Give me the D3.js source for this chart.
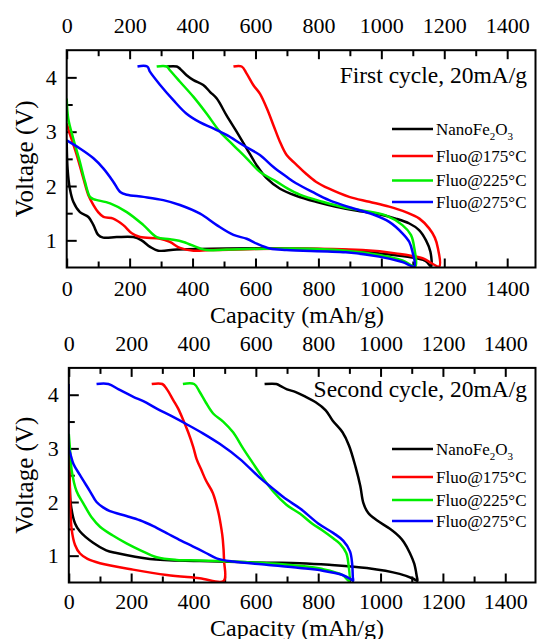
<!DOCTYPE html>
<html>
<head>
<meta charset="utf-8">
<script src="https://cdn.jsdelivr.net/npm/d3@7"></script>
</head>
<body style="margin:0;background:#fff">
<div id="chart"></div>
<script>
const SERIF = '"Liberation Serif", serif';

// Axis ticks
const capMajor = [0, 200, 400, 600, 800, 1000, 1200, 1400];
const capMinor = [100, 300, 500, 700, 900, 1100, 1300];
const voltMajor = [1, 2, 3, 4];
const voltMinor = [1.5, 2.5, 3.5];

// Legend
const seriesNames = ["NanoFe2O3", "Fluo@175°C", "Fluo@225°C", "Fluo@275°C"];
const seriesColors = ["#000000", "#ff0000", "#00ee00", "#0000ff"];

// First cycle: [capacity mAh/g, voltage V], discharge then charge
const firstNano = [[0,2.8],[3,2.3],[10,1.95],[21,1.71],[42,1.52],[69,1.43],[85,1.28],[100,1.1],[116,1.05],[159,1.06],[212,1.06],[238,1.0],[265,0.88],[291,0.81],[350,0.83],[508,0.85],[720,0.85],[887,0.82],[993,0.76],[1078,0.7],[1140,0.62],[1158,0.52],
  [1156,0.79],[1142,1.0],[1120,1.19],[1089,1.31],[1046,1.4],[993,1.48],[919,1.55],[856,1.62],[792,1.71],[729,1.82],[678,1.95],[636,2.14],[604,2.38],[572,2.69],[540,3.0],[508,3.3],[477,3.61],[456,3.73],[434,3.86],[403,3.95],[381,4.04],[360,4.16],[350,4.2],[318,4.2]];
const firstRed = [[0,3.15],[11,2.94],[32,2.57],[53,2.14],[69,1.83],[85,1.65],[100,1.52],[117,1.43],[148,1.4],[180,1.28],[207,1.13],[233,1.06],[297,1.03],[328,0.97],[360,0.86],[403,0.81],[456,0.82],[729,0.85],[940,0.82],[1046,0.76],[1131,0.67],[1184,0.52],
  [1180,0.85],[1170,1.05],[1152,1.22],[1121,1.4],[1078,1.52],[1025,1.62],[962,1.71],[898,1.8],[834,1.95],[792,2.08],[760,2.23],[729,2.4],[699,2.57],[678,2.81],[657,3.12],[636,3.43],[614,3.7],[593,3.86],[572,4.07],[556,4.2],[530,4.2]];
const firstGreen = [[0,3.61],[5,3.24],[21,2.87],[42,2.44],[58,2.08],[74,1.8],[85,1.76],[138,1.68],[191,1.52],[244,1.28],[286,1.06],[328,1.02],[371,0.97],[424,0.85],[445,0.82],[508,0.83],[720,0.85],[887,0.81],[993,0.73],[1067,0.63],[1108,0.52],
  [1105,0.85],[1094,1.1],[1067,1.28],[1014,1.46],[940,1.55],[887,1.6],[813,1.71],[741,1.84],[700,1.96],[667,2.08],[614,2.26],[572,2.51],[530,2.75],[487,3.0],[445,3.33],[403,3.64],[360,3.92],[328,4.13],[318,4.2],[286,4.2]];
const firstBlue = [[0,2.84],[42,2.69],[85,2.51],[117,2.32],[148,2.08],[170,1.89],[191,1.84],[244,1.8],[307,1.74],[360,1.65],[424,1.49],[477,1.28],[530,1.1],[572,1.03],[604,0.94],[646,0.85],[699,0.82],[887,0.78],[993,0.7],[1067,0.6],[1105,0.52],
  [1099,0.79],[1089,0.97],[1067,1.13],[1025,1.34],[972,1.48],[909,1.59],[834,1.74],[781,1.89],[729,2.05],[699,2.17],[657,2.35],[614,2.57],[561,2.75],[508,2.94],[466,3.06],[424,3.17],[381,3.33],[339,3.58],[297,3.86],[265,4.1],[256,4.2],[225,4.2]];

// Second cycle
const secondNano = [[0,2.9],[3,2.4],[6,1.98],[20,1.6],[36,1.45],[78,1.24],[120,1.1],[153,1.05],[260,0.94],[420,0.9],[634,0.87],[741,0.86],[835,0.83],[956,0.77],[1061,0.66],[1105,0.57],[1118,0.53],
  [1116,0.62],[1108,0.85],[1094,1.05],[1075,1.25],[1061,1.35],[1030,1.5],[988,1.66],[960,1.8],[945,1.98],[935,2.3],[920,2.65],[899,3.05],[878,3.3],[846,3.52],[824,3.71],[792,3.86],[760,3.96],[728,4.05],[700,4.1],[680,4.16],[666,4.2],[628,4.2]];
const secondRed = [[0,3.0],[3,2.3],[9,1.5],[20,1.2],[36,1.04],[60,0.94],[100,0.86],[206,0.74],[314,0.64],[420,0.58],[497,0.53],
  [498,0.91],[494,1.3],[490,1.48],[480,1.8],[462,2.17],[440,2.4],[425,2.6],[410,2.8],[399,3.03],[383,3.3],[367,3.53],[350,3.75],[335,3.9],[315,4.1],[300,4.2],[266,4.2]];
const secondGreen = [[0,3.27],[5,2.9],[9,2.6],[25,2.2],[46,1.98],[75,1.7],[100,1.54],[140,1.38],[185,1.23],[230,1.1],[282,0.97],[346,0.92],[420,0.91],[634,0.86],[741,0.81],[814,0.75],[878,0.64],[899,0.53],
  [897,0.84],[890,1.05],[870,1.22],[849,1.32],[814,1.47],[780,1.6],[742,1.78],[698,1.95],[655,2.2],[613,2.53],[591,2.72],[559,3.0],[527,3.3],[495,3.5],[463,3.65],[440,3.85],[420,4.05],[402,4.2],[366,4.2]];
const secondBlue = [[0,4.2],[0,3.0],[5,2.9],[15,2.71],[36,2.5],[68,2.2],[89,2.0],[110,1.9],[132,1.83],[185,1.74],[228,1.66],[271,1.55],[314,1.42],[360,1.28],[399,1.17],[440,1.05],[474,0.95],[527,0.89],[634,0.83],[741,0.77],[814,0.72],[878,0.64],[905,0.56],[912,0.53],
  [911,0.6],[909,0.84],[902,1.08],[880,1.28],[849,1.42],[800,1.6],[742,1.88],[698,2.05],[655,2.25],[613,2.45],[549,2.8],[485,3.08],[430,3.28],[378,3.45],[330,3.6],[282,3.74],[239,3.88],[207,3.96],[160,4.1],[127,4.2],[89,4.2]];

const panels = [
  {id: "p1", series: [firstNano, firstRed, firstGreen, firstBlue], note: "First cycle, 20mA/g",
   left: 66.7, right: 535.5, xMax: 1490, top: 50.2, bottom: 267.5, padBottom: 13,
   noteY: 83, legendY: [129, 156, 180.5, 202], titleY: 323},
  {id: "p2", series: [secondNano, secondRed, secondGreen, secondBlue], note: "Second cycle, 20mA/g",
   left: 68.8, right: 535.5, xMax: 1497, top: 367.9, bottom: 582.5, padBottom: 11,
   noteY: 397, legendY: [449, 477, 500, 521], titleY: 635.5}
];

const svg = d3.select("#chart")
  .append("svg")
  .attr("width", 537)
  .attr("height", 639);

function styleAxis(g) {
  g.select(".domain").remove();
  g.attr("font-family", null).attr("font-size", null);
  g.selectAll("line").attr("stroke", "#000").attr("stroke-width", 2);
  g.selectAll("text")
    .style("font-family", SERIF)
    .style("font-size", "22px")
    .attr("fill", "#000");
}

function drawPanel(p) {
  const x = d3.scaleLinear().domain([0, p.xMax]).range([p.left, p.right]);
  const y = d3.scaleLinear().domain([0.5, 4.5]).range([p.bottom, p.top]);

  svg.append("clipPath").attr("id", "clip-" + p.id)
    .append("rect")
    .attr("x", p.left).attr("y", p.top)
    .attr("width", p.right - p.left).attr("height", p.bottom - p.top);

  // minor ticks
  svg.append("g").attr("transform", `translate(0,${p.bottom})`)
    .call(d3.axisBottom(x).tickValues(capMinor).tickSize(-6).tickFormat(""))
    .call(styleAxis);
  svg.append("g").attr("transform", `translate(0,${p.top})`)
    .call(d3.axisTop(x).tickValues(capMinor).tickSize(-6).tickFormat(""))
    .call(styleAxis);
  svg.append("g").attr("transform", `translate(${p.left},0)`)
    .call(d3.axisLeft(y).tickValues(voltMinor).tickSize(-6).tickFormat(""))
    .call(styleAxis);

  // major ticks
  svg.append("g").attr("transform", `translate(0,${p.bottom})`)
    .call(d3.axisBottom(x).tickValues(capMajor).tickSize(-9).tickPadding(p.padBottom).tickFormat(d3.format("d")))
    .call(styleAxis);
  svg.append("g").attr("transform", `translate(0,${p.top})`)
    .call(d3.axisTop(x).tickValues(capMajor).tickSize(-9).tickPadding(17).tickFormat(d3.format("d")))
    .call(styleAxis);
  svg.append("g").attr("transform", `translate(${p.left},0)`)
    .call(d3.axisLeft(y).tickValues(voltMajor).tickSize(-10).tickPadding(10).tickFormat(d3.format("d")))
    .call(styleAxis);

  // curves
  const line = d3.line()
    .x(d => x(d[0]))
    .y(d => y(d[1]))
    .curve(d3.curveCatmullRom.alpha(0.5));

  svg.append("g")
    .attr("clip-path", `url(#clip-${p.id})`)
    .selectAll("path")
    .data(p.series)
    .join("path")
    .attr("d", line)
    .attr("fill", "none")
    .attr("stroke", (d, i) => seriesColors[i])
    .attr("stroke-width", 2.5)
    .attr("stroke-linejoin", "round");

  // frame
  svg.append("rect")
    .attr("x", p.left).attr("y", p.top)
    .attr("width", p.right - p.left).attr("height", p.bottom - p.top)
    .attr("fill", "none")
    .attr("stroke", "#000")
    .attr("stroke-width", 2);

  // note
  svg.append("text")
    .attr("x", 527)
    .attr("y", p.noteY)
    .attr("text-anchor", "end")
    .style("font-family", SERIF)
    .style("font-size", "23.5px")
    .text(p.note);

  // legend
  const leg = svg.append("g");
  leg.selectAll("line")
    .data(seriesNames)
    .join("line")
    .attr("x1", 392).attr("x2", 433)
    .attr("y1", (d, i) => p.legendY[i])
    .attr("y2", (d, i) => p.legendY[i])
    .attr("stroke", (d, i) => seriesColors[i])
    .attr("stroke-width", 2.5);

  leg.selectAll("text")
    .data(seriesNames)
    .join("text")
    .attr("x", 436)
    .attr("y", (d, i) => p.legendY[i])
    .attr("dy", "0.35em")
    .style("font-family", SERIF)
    .style("font-size", "17px")
    .each(function(d) {
      const t = d3.select(this);
      if (d === "NanoFe2O3") {
        t.append("tspan").text("NanoFe");
        t.append("tspan").attr("dy", 5).style("font-size", "11px").text("2");
        t.append("tspan").attr("dy", -5).text("O");
        t.append("tspan").attr("dy", 5).style("font-size", "11px").text("3");
      } else {
        t.text(d);
      }
    });

  // axis titles
  svg.append("text")
    .attr("x", 297)
    .attr("y", p.titleY)
    .attr("text-anchor", "middle")
    .style("font-family", SERIF)
    .style("font-size", "24px")
    .text("Capacity (mAh/g)");

  svg.append("text")
    .attr("transform", `translate(33, ${(p.top + p.bottom) / 2}) rotate(-90)`)
    .attr("text-anchor", "middle")
    .style("font-family", SERIF)
    .style("font-size", "25px")
    .text("Voltage (V)");
}

panels.forEach(drawPanel);
</script>
</body>
</html>
